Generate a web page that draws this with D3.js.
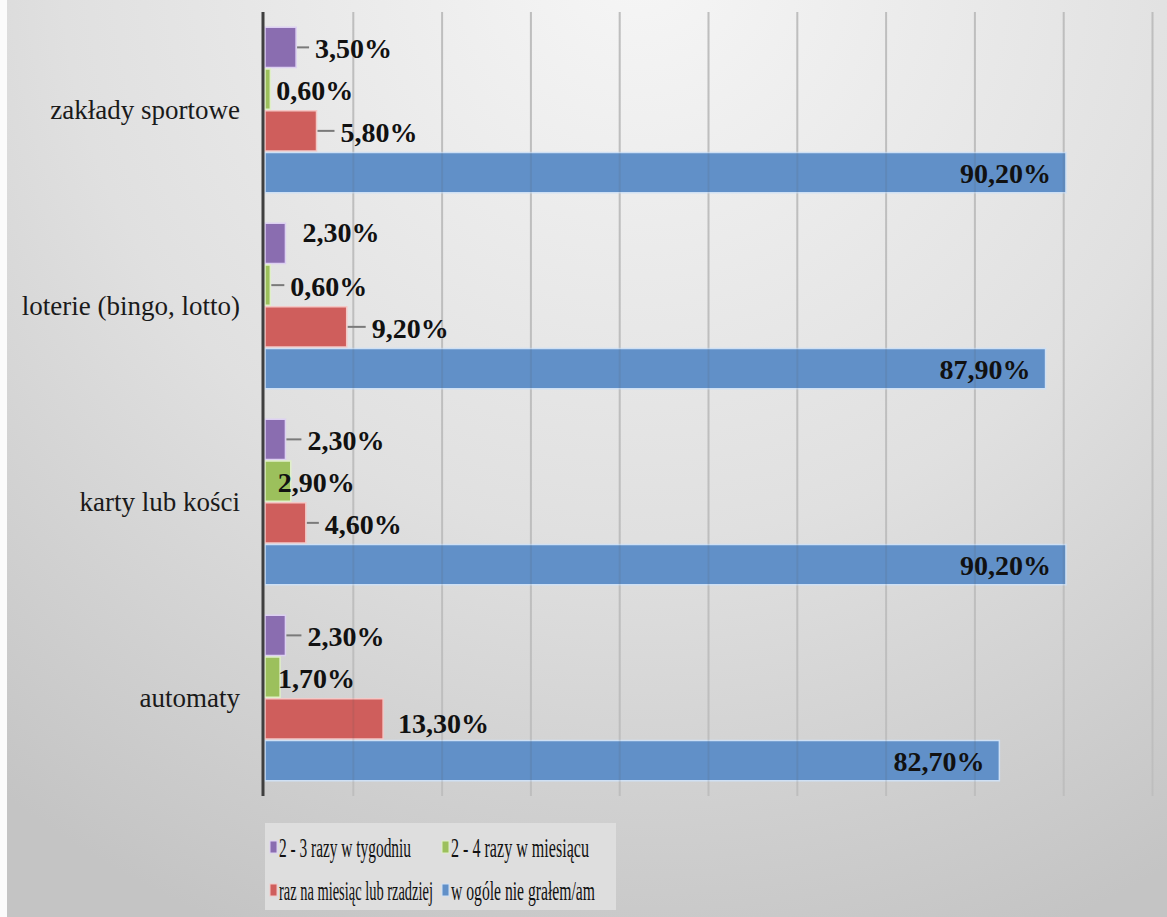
<!DOCTYPE html>
<html><head><meta charset="utf-8">
<script src="https://cdn.jsdelivr.net/npm/d3@7"></script>
<style>html,body{margin:0;padding:0;background:#fff;}svg{display:block;}</style>
</head><body>
<svg id="chart" width="1167" height="917"></svg>
<script>
// ---- data ----
const categories = ["zakłady sportowe", "loterie (bingo, lotto)", "karty lub kości", "automaty"];
const seriesNames = ["2 - 3 razy w tygodniu", "2 - 4 razy w miesiącu", "raz na miesiąc lub rzadziej", "w ogóle nie grałem/am"];
const weekly   = [3.5, 2.3, 2.3, 2.3];
const monthly  = [0.6, 0.6, 2.9, 1.7];
const rarely   = [5.8, 9.2, 4.6, 13.3];
const never    = [90.2, 87.9, 90.2, 82.7];
const xTicks = [0, 10, 20, 30, 40, 50, 60, 70, 80, 90, 100];

// ---- styling / label placement (manual, as in the original) ----
const colors  = ["#8a6db0", "#9cc05c", "#cf5e5c", "#6190c8"];
const borders = ["#ddd0f2", "#e0efc8", "#f4c8c6", "#cfe0f4"];
// per [category][series]: gap from bar end to label start, vertical nudge, leader line
const labelGap = [[20, 7, 25, 0], [18, 21, 26, 0], [23, -12, 20, 0], [23, -1, 16, 0]];
const labelDy  = [[0, 0, 0, 0], [-12, 0, 0, 0], [0, 0, 0, 0], [0, 0, 3, 0]];
const leader   = [[1, 0, 1, 0], [0, 1, 1, 0], [1, 0, 1, 0], [1, 0, 0, 0]];
const SERIF = "'Liberation Serif', 'Times New Roman', serif";

const values = [weekly, monthly, rarely, never];
const fmt = v => v.toFixed(2).replace(".", ",") + "%";

const svg = d3.select("#chart");
const W = 1167, H = 917;
const defs = svg.append("defs");
const bg = defs.append("radialGradient").attr("id", "bg")
  .attr("gradientUnits", "userSpaceOnUse").attr("cx", 640).attr("cy", -40).attr("r", 1050);
bg.append("stop").attr("offset", "0").attr("stop-color", "#f6f6f6");
bg.append("stop").attr("offset", "0.55").attr("stop-color", "#e0e0e0");
bg.append("stop").attr("offset", "1").attr("stop-color", "#c4c4c4");
const gl = defs.append("linearGradient").attr("id", "grid")
  .attr("gradientUnits", "userSpaceOnUse").attr("x1", 0).attr("y1", 12).attr("x2", 0).attr("y2", 796);
gl.append("stop").attr("offset", "0").attr("stop-color", "#cdcdcd");
gl.append("stop").attr("offset", "1").attr("stop-color", "#8c8c8c");

svg.append("rect").attr("width", W).attr("height", H).attr("fill", "url(#bg)");
svg.append("rect").attr("width", 7).attr("height", H).attr("fill", "#fbfbfb");

const margin = {left: 264, top: 12, bottom: 796};
const x = d3.scaleLinear().domain([0, 100]).range([264, 264 + 888]);
const y0 = d3.scaleBand().domain(categories).range([margin.top, margin.bottom])
  .paddingInner(0.148).paddingOuter(0.074);
const y1 = d3.scaleBand().domain(d3.range(4)).range([0, y0.bandwidth()]);

// gridlines + ticks
const grid = svg.append("g").attr("transform", `translate(0,${margin.bottom})`)
  .call(d3.axisBottom(x).tickValues(xTicks.slice(1)).tickSize(-(margin.bottom - margin.top)).tickFormat(""));
grid.select(".domain").remove();
grid.selectAll(".tick line").attr("stroke", "url(#grid)").attr("stroke-width", 2);

// bars
const groups = svg.append("g").selectAll("g").data(categories).join("g")
  .attr("transform", c => `translate(0,${y0(c)})`);
groups.each(function(c, ci) {
  const g = d3.select(this);
  values.forEach((arr, si) => {
    const v = arr[ci];
    g.append("rect")
      .attr("x", x(0) + 1).attr("y", y1(si) + 0.75)
      .attr("width", x(v) - x(0)).attr("height", y1.bandwidth() - 1.5)
      .attr("fill", colors[si]).attr("stroke", borders[si]).attr("stroke-width", 1.5);
  });
});

// faint gridlines showing through the bars
const grid2 = svg.append("g").attr("transform", `translate(0,${margin.bottom})`)
  .call(d3.axisBottom(x).tickValues(xTicks.slice(1)).tickSize(-(margin.bottom - margin.top)).tickFormat(""));
grid2.select(".domain").remove();
grid2.selectAll(".tick line").attr("stroke", "#555").attr("stroke-width", 2).attr("stroke-opacity", 0.12);

// vertical axis line
svg.append("line").attr("x1", 263).attr("x2", 263).attr("y1", margin.top).attr("y2", margin.bottom)
  .attr("stroke", "#3f3f3f").attr("stroke-width", 3);

// category labels
svg.append("g").selectAll("text").data(categories).join("text")
  .attr("x", 240).attr("y", c => y0(c) + y0.bandwidth() / 2).attr("dy", "0.33em")
  .attr("text-anchor", "end").style("font-family", SERIF)
  .style("font-size", "27px").attr("fill", "#1a1a1a").text(c => c);

// data labels
const lab = svg.append("g").style("font-family", SERIF)
  .style("font-weight", "bold").style("font-size", "28px").attr("fill", "#111");
categories.forEach((c, ci) => {
  values.forEach((arr, si) => {
    const v = arr[ci];
    const cy = y0(c) + y1(si) + y1.bandwidth() / 2;
    const end = x(v);
    if (si === 3) {
      lab.append("text").attr("x", end - 14).attr("y", cy + 10).attr("text-anchor", "end").text(fmt(v));
    } else {
      const tx = end + labelGap[ci][si];
      lab.append("text").attr("x", tx).attr("y", cy + 11 + labelDy[ci][si]).text(fmt(v));
      if (leader[ci][si]) {
        svg.append("line").attr("x1", end + 2).attr("x2", tx - 6).attr("y1", cy).attr("y2", cy)
          .attr("stroke", "#7a7a7a").attr("stroke-width", 2);
      }
    }
  });
});

// legend (condensed text, as in the original)
const lg = svg.append("g");
lg.append("rect").attr("x", 265).attr("y", 823).attr("width", 351).attr("height", 87).attr("fill", "#dedede");
const legPos = [[270, 857], [442, 857], [270, 900], [442, 900]];
const legTextLen = [132, 138, 154, 144];
seriesNames.forEach((n, i) => {
  const [lx, ly] = legPos[i];
  lg.append("rect").attr("x", lx).attr("y", ly - 16).attr("width", 7).attr("height", 12)
    .attr("fill", colors[i]).attr("stroke", borders[i]).attr("stroke-width", 1);
  const t = lg.append("text")
    .style("font-family", SERIF).style("font-size", "27px")
    .attr("fill", "#111").text(n);
  const natural = t.node().getComputedTextLength();
  t.attr("transform", `translate(${lx + 9},${ly}) scale(${legTextLen[i] / natural},1)`);
});
</script>
</body></html>
